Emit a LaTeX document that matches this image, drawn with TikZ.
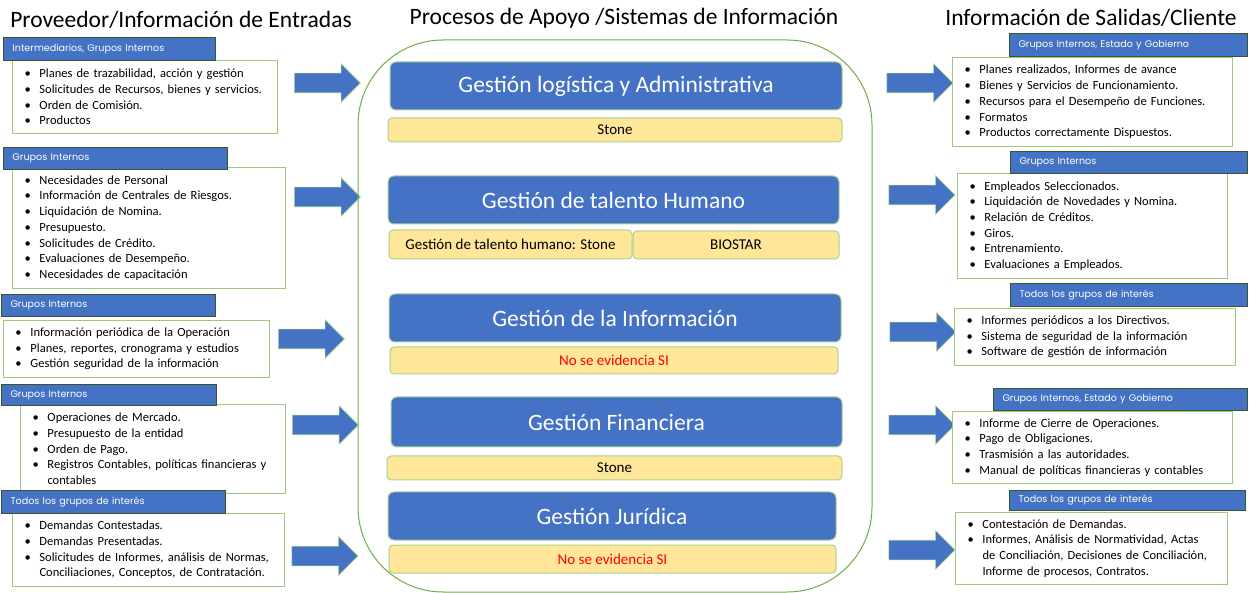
\documentclass[tikz,border=0pt]{standalone}
\usepackage{fontspec}
\setmainfont{Carlito}
\newfontfamily\tagfont{Poppins}
\usepackage{tikz}
\usetikzlibrary{shapes.arrows}
\definecolor{procblue}{HTML}{4472C4}
\definecolor{sysyellow}{HTML}{FFE699}
\definecolor{edgegreen}{HTML}{70AD47}
\definecolor{lightgreen}{HTML}{A9D18E}
\definecolor{tagedge}{HTML}{38562A}
\def\itm#1{\mbox{\makebox[15pt][l]{\textbullet}#1}}
\def\cnt#1{\mbox{\hspace*{15pt}#1}}

\begin{document}
\begin{tikzpicture}[x=1pt, y=-1pt,
		title/.style={font=\fontsize{23.5}{26}\selectfont, inner sep=0},
		tag/.style={anchor=north west, fill=procblue, draw=tagedge, line width=1pt, text=white, font=\tagfont\fontsize{9.6}{11}\selectfont, align=left, inner xsep=9pt, inner ysep=0},
		list/.style={anchor=north west, fill=white, draw=lightgreen!80!edgegreen, line width=1pt, align=left, font=\fontsize{12.5}{15.7}\selectfont, inner xsep=12pt, inner ysep=0},
		proc/.style={fill=procblue, draw=lightgreen, line width=1pt, rounded corners=6pt, text=white, font=\fontsize{23.5}{26}\selectfont, inner sep=0},
		sys/.style={fill=sysyellow, draw=lightgreen, line width=1pt, rounded corners=4pt, font=\fontsize{15}{17}\selectfont, inner sep=0},
		bigarrow/.style={single arrow, fill=procblue, draw=lightgreen, line width=0.6pt, inner xsep=0, inner ysep=9.5pt, single arrow head extend=9.5pt, minimum height=66pt},
		container/.style={draw=edgegreen, line width=1pt, rounded corners=85pt, inner sep=0}]
		%%%%% START %%%%%
		
		\useasboundingbox (0, 0) rectangle (1251, 593);
		
		\node[title] (tIn) at (181, 20) {Proveedor/Información de Entradas};
		\node[title] (tProc) at (624, 18) {Procesos de Apoyo /Sistemas de Información};
		\node[title] (tOut) at (1091, 18) {Información de Salidas/Cliente};
		
		% entradas
		\node[list, text width=241pt, minimum width=265pt, minimum height=73pt] (in1) at (12, 60) {\itm{Planes de trazabilidad, acción y gestión}\\ \itm{Solicitudes de Recursos, bienes y servicios.}\\ \itm{Orden de Comisión.}\\ \itm{Productos}};
		\node[tag, text width=194pt, minimum height=23pt] (tagIn1) at (3, 37) {Intermediarios, Grupos Internos};
		
		\node[list, text width=249pt, minimum width=273pt, minimum height=121pt] (in2) at (12, 167) {\itm{Necesidades de Personal}\\ \itm{Información de Centrales de Riesgos.}\\ \itm{Liquidación de Nomina.}\\ \itm{Presupuesto.}\\ \itm{Solicitudes de Crédito.}\\ \itm{Evaluaciones de Desempeño.}\\ \itm{Necesidades de capacitación}};
		\node[tag, text width=206pt, minimum height=22pt] (tagIn2) at (3, 147) {Grupos Internos};
		
		\node[list, text width=242pt, minimum width=266pt, minimum height=57pt] (in3) at (3, 320) {\itm{Información periódica de la Operación}\\ \itm{Planes, reportes, cronograma y estudios}\\ \itm{Gestión seguridad de la información}};
		\node[tag, text width=196pt, minimum height=22pt] (tagIn3) at (1, 294) {Grupos Internos};
		
		\node[list, text width=241pt, minimum width=265pt, minimum height=89pt] (in4) at (20, 404) {\itm{Operaciones de Mercado.}\\ \itm{Presupuesto de la entidad}\\ \itm{Orden de Pago.}\\ \itm{Registros Contables, políticas financieras y}\\ \cnt{contables}};
		\node[tag, text width=197pt, minimum height=21pt] (tagIn4) at (1, 384) {Grupos Internos};
		
		\node[list, text width=248pt, minimum width=272pt, minimum height=73pt] (in5) at (12, 513) {\itm{Demandas Contestadas.}\\ \itm{Demandas Presentadas.}\\ \itm{Solicitudes de Informes, análisis de Normas,}\\ \cnt{Conciliaciones, Conceptos, de Contratación.}};
		\node[tag, text width=206pt, minimum height=23pt] (tagIn5) at (1, 490) {Todos los grupos de interés};
		
		\node[bigarrow] (arrIn1) at (322.5, 83) {};
		\node[bigarrow] (arrIn2) at (322.5, 197) {};
		\node[bigarrow] (arrIn3) at (306.5, 339) {};
		\node[bigarrow] (arrIn4) at (320.5, 425) {};
		\node[bigarrow] (arrIn5) at (320, 556) {};
		
		% procesos
		\node[container, minimum width=514pt, minimum height=552pt] (procs) at (615, 316) {};
		
		\node[proc, minimum width=452pt, minimum height=48pt] (pLog) at (616, 86) {Gestión logística y Administrativa};
		\node[sys, minimum width=454pt, minimum height=24pt] (sLog) at (615, 130) {Stone};
		
		\node[proc, minimum width=451pt, minimum height=48pt] (pTal) at (613.5, 200) {Gestión de talento Humano};
		\node[sys, minimum width=243pt, minimum height=29pt] (sTalA) at (510.5, 244.5) {Gestión de talento humano: Stone};
		\node[sys, minimum width=206pt, minimum height=28pt] (sTalB) at (736, 245) {BIOSTAR};
		
		\node[proc, minimum width=452pt, minimum height=48pt] (pInf) at (615, 318) {Gestión de la Información};
		\node[sys, minimum width=448pt, minimum height=27pt, text=red] (sInf) at (614, 360.5) {No se evidencia SI};
		
		\node[proc, minimum width=451pt, minimum height=50pt] (pFin) at (616.5, 422) {Gestión Financiera};
		\node[sys, minimum width=455pt, minimum height=24pt] (sFin) at (614.5, 468) {Stone};
		
		\node[proc, minimum width=448pt, minimum height=48pt] (pJur) at (612, 516) {Gestión Jurídica};
		\node[sys, minimum width=447pt, minimum height=28pt, text=red] (sJur) at (612.5, 559) {No se evidencia SI};
		
		% salidas
		\node[bigarrow] (arrOut1) at (915, 83) {};
		\node[bigarrow] (arrOut2) at (917, 195) {};
		\node[bigarrow] (arrOut3) at (918, 332) {};
		\node[bigarrow] (arrOut4) at (917, 425) {};
		\node[bigarrow] (arrOut5) at (917, 550) {};
		
		\node[list, text width=256pt, minimum width=280pt, minimum height=89pt] (out1) at (952, 57) {\itm{Planes realizados, Informes de avance}\\ \itm{Bienes y Servicios de Funcionamiento.}\\ \itm{Recursos para el Desempeño de Funciones.}\\ \itm{Formatos}\\ \itm{Productos correctamente Dispuestos.}};
		\node[tag, text width=220pt, minimum height=23pt] (tagOut1) at (1009, 33) {Grupos Internos, Estado y Gobierno};
		
		\node[list, text width=246pt, minimum width=270pt, minimum height=105pt] (out2) at (957, 173) {\itm{Empleados Seleccionados.}\\ \itm{Liquidación de Novedades y Nomina.}\\ \itm{Relación de Créditos.}\\ \itm{Giros.}\\ \itm{Entrenamiento.}\\ \itm{Evaluaciones a Empleados.}};
		\node[tag, text width=219pt, minimum height=22pt] (tagOut2) at (1010, 151) {Grupos Internos};
		
		\node[list, text width=257pt, minimum width=281pt, minimum height=57pt] (out3) at (954, 308) {\itm{Informes periódicos a los Directivos.}\\ \itm{Sistema de seguridad de la información}\\ \itm{Software de gestión de información}};
		\node[tag, text width=219pt, minimum height=23pt] (tagOut3) at (1010, 283) {Todos los grupos de interés};
		
		\node[list, text width=256pt, minimum width=280pt, minimum height=72pt] (out4) at (952, 411) {\itm{Informe de Cierre de Operaciones.}\\ \itm{Pago de Obligaciones.}\\ \itm{Trasmisión a las autoridades.}\\ \itm{Manual de políticas financieras y contables}};
		\node[tag, text width=236pt, minimum height=22pt] (tagOut4) at (993, 388) {Grupos Internos, Estado y Gobierno};
		
		\node[list, text width=248pt, minimum width=272pt, minimum height=72pt] (out5) at (955, 512) {\itm{Contestación de Demandas.}\\ \itm{Informes, Análisis de Normatividad, Actas}\\ \cnt{de Conciliación, Decisiones de Conciliación,}\\ \cnt{Informe de procesos, Contratos.}};
		\node[tag, text width=218pt, minimum height=20pt] (tagOut5) at (1009, 490) {Todos los grupos de interés};
		
		%%%%% END %%%%%
	\end{tikzpicture}
\end{document}
